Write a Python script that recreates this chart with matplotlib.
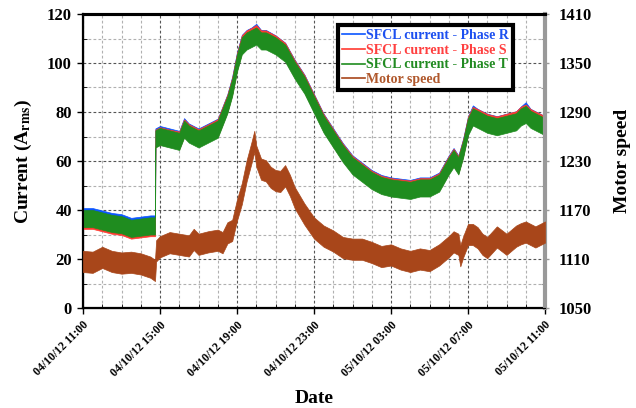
import datetime as dt
import numpy as np
import matplotlib
matplotlib.use("Agg")
import matplotlib.pyplot as plt
import matplotlib.dates as mdates
from matplotlib.ticker import MultipleLocator, FixedLocator
from matplotlib.lines import Line2D

# ---------------- data ----------------
start = dt.datetime(2012, 10, 4, 11, 0)

# current: hours after start
t_cur = [0, 0.5, 1, 1.5, 2, 2.5, 3, 3.5, 3.74, 3.76, 4, 4.5, 5, 5.25, 5.5, 6, 6.5, 7,
         7.25, 7.5, 7.75, 8, 8.25, 8.5, 8.75, 9, 9.25, 9.5, 10, 10.5, 11, 11.5, 12,
         12.5, 13, 13.5, 14, 14.5, 15, 15.5, 16, 16.5, 17, 17.5, 18, 18.5, 19, 19.25,
         19.5, 19.75, 20, 20.25, 20.5, 21, 21.5, 22, 22.5, 22.75, 23, 23.25, 23.5, 24]
cur_T = [36.5, 36.5, 35.5, 34.5, 34, 32.5, 33, 33.5, 33.5, 69, 70, 69, 68, 73, 71, 69, 71, 73,
         78, 83, 90, 100, 107, 109, 110, 111, 109, 109, 107, 104, 97, 91, 83,
         75, 69, 63, 58, 55, 52, 50, 49, 48.5, 48, 49, 49, 51, 58, 61,
         58, 65, 74, 78, 77, 75, 74, 75, 76, 78, 79, 77, 76, 74]
cur_R = [37.3, 37.3, 36.3, 35.3, 34.8, 33.3, 33.8, 34.3, 34.3, 69.8, 70.8, 69.8, 68.8, 74, 71.8, 69.8, 71.8, 73.8,
         78.8, 83.8, 91, 101, 108, 110, 111, 112.5, 110, 110, 107.8, 104.8, 97.8, 91.8, 83.8,
         75.8, 69.8, 63.8, 58.8, 55.8, 52.8, 50.8, 49.8, 49.3, 48.8, 49.8, 49.8, 51.8, 58.8, 61.8,
         58.8, 65.8, 74.8, 79.2, 77.8, 75.8, 74.8, 75.8, 76.8, 78.8, 80.5, 77.8, 76.8, 74.8]
cur_S = [35.8, 35.8, 34.8, 33.8, 33.3, 31.8, 32.3, 32.8, 32.8, 69.3, 70.3, 69.3, 68.5, 73.5, 71.5, 69.5, 71.5, 73.6,
         78.6, 83.6, 90.6, 100.6, 107.8, 109.8, 110.8, 112, 109.8, 109.8, 107.7, 104.7, 97.6, 91.6, 83.6,
         75.6, 69.5, 63.5, 58.5, 55.5, 52.5, 50.5, 49.5, 49, 48.5, 49.5, 49.5, 51.5, 58.5, 61.5,
         58.5, 65.5, 74.6, 78.6, 77.7, 75.7, 74.7, 75.8, 76.8, 78.7, 79.6, 77.7, 76.7, 74.8]
cur_noise = 3.5   # half-width of the noisy band (A)

# motor speed
t_mot = [0, 0.5, 1, 1.5, 2, 2.5, 3, 3.5, 3.74, 3.8, 4, 4.5, 5, 5.5, 5.75, 6, 6.5, 7,
         7.25, 7.5, 7.75, 8, 8.25, 8.5, 8.75, 8.9, 9.0, 9.25, 9.5, 9.75, 10, 10.25,
         10.5, 10.75, 11, 11.5, 12, 12.5, 13, 13.5, 14, 14.5, 15, 15.5, 16, 16.5, 17,
         17.5, 18, 18.5, 19, 19.25, 19.5, 19.6, 19.75, 20, 20.25, 20.5, 20.75, 21, 21.5,
         22, 22.5, 22.75, 23, 23.5, 24]
motor = [1107, 1106, 1112, 1107, 1105, 1106, 1104, 1100, 1096, 1120, 1125, 1130, 1128, 1126, 1134, 1128, 1131, 1133,
         1130, 1142, 1145, 1170, 1190, 1218, 1240, 1254, 1236, 1220, 1218, 1210, 1206, 1205,
         1212, 1200, 1185, 1165, 1148, 1138, 1132, 1124, 1122, 1122, 1118, 1113, 1115, 1110, 1107,
         1110, 1108, 1115, 1125, 1131, 1128, 1114, 1125, 1140, 1140, 1136, 1128, 1124, 1137,
         1128, 1138, 1141, 1143, 1137, 1143]
mot_noise = 13    # half-width of the noisy band (rpm)

right_ticks = [1050, 1110, 1170, 1230, 1290, 1350, 1410]
x_ticklabels_fmt = "%d/%m/%y %H:%M"
legend_labels = ["SFCL current - Phase R", "SFCL current - Phase S",
                 "SFCL current - Phase T", "Motor speed"]

# ---------------- plotting ----------------
plt.rcParams["font.family"] = ["Liberation Serif", "DejaVu Serif"]
plt.rcParams["font.weight"] = "bold"
plt.rcParams["mathtext.fontset"] = "stix"

c_R, c_S, c_T, c_M = "#0a55ff", "#ff3a30", "#1f8c1f", "#a8461a"
txt_colors = ["#1d50f0", "#ff4040", "#228b22", "#b0582c"]

fig = plt.figure(figsize=(6.36, 4.08), dpi=100)
ax = fig.add_axes([83 / 636, 1 - 308 / 408, (545 - 83) / 636, (308 - 14) / 408])
ax2 = ax.twinx()

def to_dates(ts):
    return [start + dt.timedelta(hours=h) for h in ts]

dc = to_dates(t_cur)
dm = to_dates(t_mot)

for vals, col in [(cur_R, c_R), (cur_S, c_S), (cur_T, c_T)]:
    v = np.array(vals)
    ax.fill_between(dc, v - cur_noise, v + cur_noise, color=col, lw=0.5, edgecolor=col, zorder=3)

m = np.array(motor)
ax2.fill_between(dm, m - mot_noise, m + mot_noise, color=c_M, lw=0.5, edgecolor=c_M, zorder=3)

ax.set_xlim(start, start + dt.timedelta(hours=24))
ax.set_ylim(0, 120)
ax2.set_ylim(1050, 1410)

ax.xaxis.set_major_locator(mdates.HourLocator(byhour=[3, 7, 11, 15, 19, 23]))
ax.xaxis.set_minor_locator(mdates.HourLocator())
ax.xaxis.set_major_formatter(mdates.DateFormatter(x_ticklabels_fmt))
ax.yaxis.set_major_locator(MultipleLocator(20))
ax.yaxis.set_minor_locator(MultipleLocator(10))
ax2.yaxis.set_major_locator(FixedLocator(right_ticks))
ax2.yaxis.set_minor_locator(FixedLocator([v + 30 for v in right_ticks[:-1]]))

ax.grid(True, which="major", color="#555555", ls=(0, (2.5, 2)), lw=0.8)
ax.grid(True, which="minor", color="#b0b0b0", ls=(0, (2.5, 2)), lw=0.8)
ax.set_axisbelow(True)

for lab in ax.get_xticklabels():
    lab.set_rotation(45)
    lab.set_ha("right")
    lab.set_rotation_mode("anchor")
    lab.set_fontsize(8.5)
    lab.set_fontweight("bold")
ax.tick_params(axis="x", which="major", direction="out", length=4, width=1, pad=4)
ax.tick_params(axis="x", which="minor", direction="in", length=3, width=0.6)
ax.tick_params(axis="y", which="major", direction="out", length=4, width=1, labelsize=12, pad=4)
ax.tick_params(axis="y", which="minor", direction="in", length=3, width=0.6)
ax2.tick_params(axis="y", which="major", direction="out", length=3, width=1, labelsize=12,
                color="#999999", pad=7)
ax2.tick_params(axis="y", which="minor", direction="in", length=3, width=0.8, color="#999999")
for lab in ax.get_yticklabels() + ax2.get_yticklabels():
    lab.set_fontweight("bold")

for s in ["left", "bottom"]:
    ax.spines[s].set_linewidth(1.6)
ax.spines["top"].set_linewidth(2.2)
ax2.spines["top"].set_linewidth(2.2)
ax2.spines["right"].set_color("#999999")
ax2.spines["right"].set_linewidth(3)
ax.spines["right"].set_visible(False)

ax.set_ylabel(r"Current (A$_{\mathbf{rms}}$)", fontsize=14, fontweight="bold", labelpad=9)
ax2.set_ylabel("Motor speed", fontsize=14, fontweight="bold", labelpad=16)
ax.set_xlabel("Date", fontsize=14, fontweight="bold", labelpad=8)

handles = [Line2D([], [], color=c, lw=1.2) for c in [c_R, c_S, c_T, c_M]]
leg = ax2.legend(handles, legend_labels, loc="upper right",
                 bbox_to_anchor=(513 / 636, 1 - 25 / 408), bbox_transform=fig.transFigure,
                 borderaxespad=0, fancybox=False, framealpha=1, edgecolor="black",
                 prop={"family": "Liberation Serif", "weight": "bold", "size": 10},
                 handlelength=1.6, handletextpad=0.1, labelspacing=0.12,
                 borderpad=0.3)
leg.get_frame().set_linewidth(3)
for txt, col in zip(leg.get_texts(), txt_colors):
    txt.set_color(col)
leg.set_zorder(10)

fig.savefig("out.png", dpi=100)
